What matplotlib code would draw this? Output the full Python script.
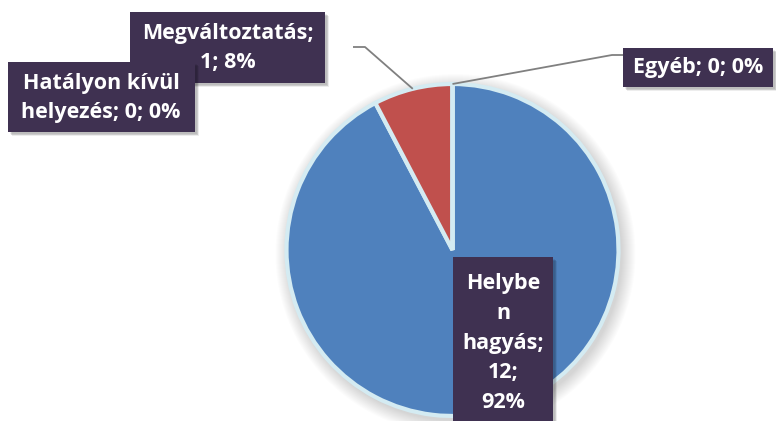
import numpy as np
import matplotlib
matplotlib.use("Agg")
import matplotlib.pyplot as plt
from matplotlib.patches import Rectangle, Circle

# ---- data ----
categories = ["Helyben hagyás", "Megváltoztatás", "Hatályon kívül helyezés", "Egyéb"]
values = [12, 1, 0, 0]
colors = ["#4f81bd", "#c0504d", "#9bbb59", "#8064a2"]

# ---- layout (pixels, top-left origin) ----
W, H = 776, 421
label_boxes = [(453, 257, 553, 440), (130, 12, 325, 83), (8, 62, 195, 132), (623, 48, 773, 87)]
label_centers = [(503, 343), (228, 48), (101, 98), (698, 67)]
label_breaks = [[6, 7, 15, 19], [15], [14], []]
leader_knees = [None, [(353, 47), (365, 47)], None, [(623, 55), (612, 55)]]
draw_order = [0, 1, 2, 3]

BOX = "#3f3151"
EDGE = "#d4ebf2"

fig = plt.figure(figsize=(W / 100, H / 100), dpi=100)
ax = fig.add_axes([0, 0, 1, 1])


def Y(py):
    return H - py


def wrap(s, cuts):
    out = list(s)
    for i in sorted(cuts, reverse=True):
        if out[i] == " ":
            out[i] = "\n"
        else:
            out.insert(i, "\n")
    return "".join(out)


cx, cy, r = 452.5, 250, 166

# soft shadow around the pie
for k in range(14):
    ax.add_patch(Circle((cx + 3, Y(cy + 4)), r + 14 - k, color="black",
                        alpha=0.010, lw=0, zorder=0))

wedges, _ = ax.pie(values, colors=colors, startangle=90, counterclock=False,
                   center=(cx, Y(cy)), radius=r,
                   wedgeprops=dict(edgecolor=EDGE, linewidth=3))
for w in wedges:
    w.set_zorder(2)

ax.set_xlim(0, W)
ax.set_ylim(0, H)
ax.set_aspect("equal")
ax.axis("off")

total = sum(values)
pcts = [round(100 * v / total) for v in values]

# leader lines
for i, knees in enumerate(leader_knees):
    if knees is None:
        continue
    wd = wedges[i]
    ang = np.deg2rad((wd.theta1 + wd.theta2) / 2)
    ax_ = cx + r * np.cos(ang)
    ay_ = wd.center[1] + r * np.sin(ang)
    pts = [(ax_, ay_)] + [(kx, Y(ky)) for kx, ky in reversed(knees)]
    ax.plot([p[0] for p in pts], [p[1] for p in pts], color="#808080", lw=1.3,
            zorder=3, solid_capstyle="butt")

# label boxes
for z, i in enumerate(draw_order):
    x0, y0, x1, y1 = label_boxes[i]
    for s in range(4):
        ax.add_patch(Rectangle((x0 + 2 + s * 0.6, Y(y1) - 2 - s * 0.6), x1 - x0, y1 - y0,
                               color="black", alpha=0.07, lw=0, zorder=4 + z * 2))
    ax.add_patch(Rectangle((x0, Y(y1)), x1 - x0, y1 - y0, color=BOX, lw=0,
                           zorder=5 + z * 2))
    txt = wrap(f"{categories[i]}; {values[i]}; {pcts[i]}%", label_breaks[i])
    tx, ty = label_centers[i]
    ax.text(tx, Y(ty), txt, color="white", fontsize=15.5,
            fontweight="bold", family=["Open Sans", "DejaVu Sans"], ha="center",
            va="center", linespacing=1.55, zorder=5 + z * 2 + 0.5)

fig.savefig("out.png", dpi=100)
